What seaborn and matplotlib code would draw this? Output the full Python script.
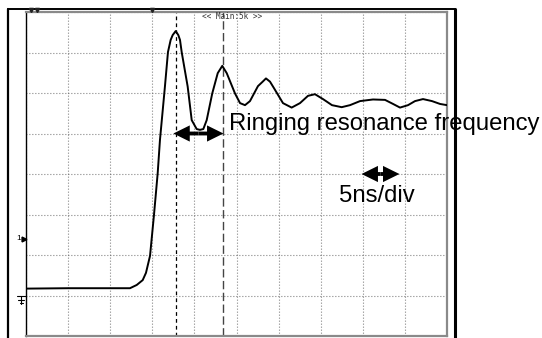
import matplotlib
matplotlib.use("Agg")
import matplotlib.pyplot as plt
from matplotlib.lines import Line2D
import numpy as np
import pandas as pd
import seaborn as sns

# ---- data read from the oscilloscope capture (time in ns, level in divisions) ----
time_ns = [0.0, 5.0, 10.0, 12.35, 13.15, 13.86, 14.25, 14.73, 15.20, 15.64, 15.91,
           16.50, 16.86, 17.18, 17.42, 17.78, 18.09, 18.29, 18.49, 19.20, 19.68,
           20.27, 20.66, 21.06, 21.46, 22.12, 22.77, 23.31, 23.84, 24.82, 25.42,
           26.01, 26.60, 27.55, 28.11, 28.50, 28.98, 29.45, 30.52, 31.55, 32.54,
           33.49, 34.32, 35.27, 36.34, 37.49, 38.48, 39.67, 41.21, 42.64, 43.59,
           44.42, 45.37, 46.20, 47.15, 48.22, 49.17, 50.0]
level_div = [1.17, 1.18, 1.18, 1.18, 1.26, 1.38, 1.56, 1.98, 2.99, 4.02, 4.84,
             6.16, 7.01, 7.31, 7.43, 7.53, 7.43, 7.31, 7.01, 6.16, 5.33,
             5.11, 5.09, 5.11, 5.33, 5.99, 6.49, 6.67, 6.49, 5.99, 5.75,
             5.70, 5.80, 6.17, 6.28, 6.36, 6.28, 6.12, 5.75, 5.64, 5.75,
             5.93, 5.97, 5.85, 5.70, 5.65, 5.70, 5.80, 5.84, 5.83, 5.73,
             5.64, 5.70, 5.80, 5.85, 5.80, 5.73, 5.70]
cursor_times = [17.8, 23.4]
ringing_arrow = [17.5, 23.45]
ringing_arrow_level = 5.0
div_arrow = [39.85, 44.35]
div_arrow_level = 4.0
label_ringing = "Ringing resonance frequency"
label_div = "5ns/div"
label_top = "<< Main:5k >>"

W, H = 542, 338
sns.set_style("white")
plt.rcParams['font.family'] = ['Liberation Sans', 'DejaVu Sans']

fig = plt.figure(figsize=(W / 100, H / 100), dpi=100)
fig.patch.set_facecolor('white')
ax = fig.add_axes([26 / W, 2 / H, 421 / W, 324 / H])

df = pd.DataFrame({"t": time_ns, "v": level_div})
sns.lineplot(data=df, x="t", y="v", ax=ax, color="black", lw=1.4, zorder=3,
             estimator=None, sort=False)

ax.set_xlim(0, 50)
ax.set_ylim(0, 8)
ax.set_xticks(np.arange(0, 51, 5))
ax.set_yticks(np.arange(0, 9, 1))
ax.tick_params(left=False, bottom=False, labelleft=False, labelbottom=False)
ax.set_xlabel("")
ax.set_ylabel("")
ax.grid(True, color="#555555", linestyle=(0, (0.7, 2.0)), lw=0.8)

for side in ["top", "right", "bottom"]:
    ax.spines[side].set_color("#8a8a8a")
    ax.spines[side].set_linewidth(1.6)
ax.spines["left"].set_color("black")
ax.spines["left"].set_linewidth(1.0)

# cursors
ax.axvline(cursor_times[0], color="black", lw=0.9, linestyle=(0, (3, 2.5)), zorder=2)
ax.axvline(cursor_times[1], color="#444444", lw=1.0, linestyle=(0, (6, 2.5)), zorder=2)

# double-headed arrows built from two single arrows pointing outward from the middle
for (xa, xb), lev in [(ringing_arrow, ringing_arrow_level), (div_arrow, div_arrow_level)]:
    mid = (xa + xb) / 2
    for end in (xa, xb):
        ax.arrow(mid, lev, end - mid, 0, length_includes_head=True,
                 width=0.095, head_width=0.40, head_length=1.95,
                 color='black', lw=0, zorder=5)

ax.text(24.05, 5.09, label_ringing, fontsize=17.2, ha='left', va='baseline',
        color='black', zorder=6, clip_on=False)
ax.text(37.17, 3.30, label_div, fontsize=17.2, ha='left', va='baseline',
        color='black', zorder=6, clip_on=False)
ax.text(20.86, 7.88, label_top, fontsize=5.6, ha='left', va='center',
        color='#333333', family='DejaVu Sans Mono', zorder=6)


def px(x, y):
    return x / W, 1 - y / H


# outer instrument frame
for (x0, y0), (x1, y1), lw in [((8, 9), (8, 340), 1.6), ((8, 9), (455, 9), 1.4),
                               ((455, 9), (455, 340), 2.2)]:
    a, b = px(x0, y0)
    c, d = px(x1, y1)
    fig.add_artist(Line2D([a, c], [b, d], transform=fig.transFigure,
                          color='black', lw=lw))

# small markers: trigger marks on top, channel marker and ground on left
for mx in [31, 37, 152]:
    fig.add_artist(Line2D([px(mx, 10)[0]], [px(mx, 10)[1]], transform=fig.transFigure,
                          marker='v', markersize=3, color='#222222', lw=0))
fig.text(*px(16, 239), "1", fontsize=6, ha='left', va='center', color='black')
fig.add_artist(Line2D([px(23.5, 239)[0]], [px(23.5, 239)[1]], transform=fig.transFigure,
                      marker='>', markersize=3.5, color='black', lw=0))
fig.add_artist(Line2D([px(17, 296)[0], px(26, 296)[0]], [px(17, 296)[1]] * 2,
                      transform=fig.transFigure, color='black', lw=0.8))
fig.add_artist(Line2D([px(21, 296)[0]] * 2, [px(21, 296)[1], px(21, 304)[1]],
                      transform=fig.transFigure, color='black', lw=0.8))
fig.add_artist(Line2D([px(18, 300)[0], px(24, 300)[0]], [px(18, 300)[1]] * 2,
                      transform=fig.transFigure, color='black', lw=0.8))
fig.add_artist(Line2D([px(19.5, 303)[0], px(22.5, 303)[0]], [px(19, 303)[1]] * 2,
                      transform=fig.transFigure, color='black', lw=0.8))

fig.savefig("out.png", dpi=100)
